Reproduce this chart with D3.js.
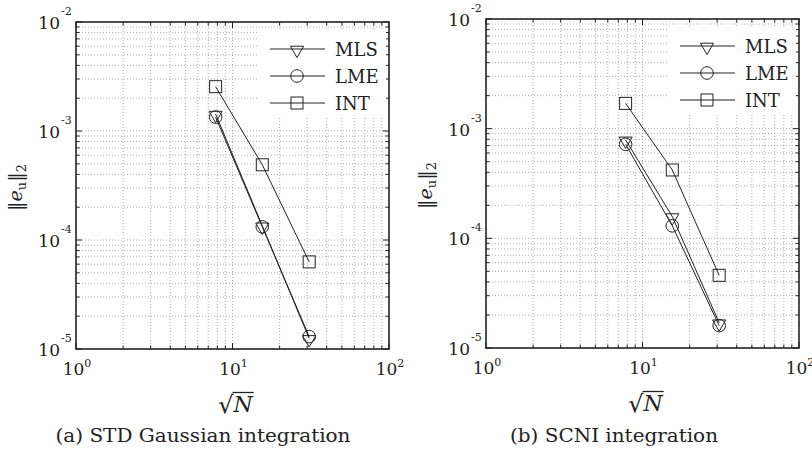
<!DOCTYPE html>
<html>
<head>
<meta charset="utf-8">
<script src="https://cdn.jsdelivr.net/npm/d3@7"></script>
<style>
  body { margin: 0; background: #fff; }
</style>
</head>
<body>
<svg id="chart" width="812" height="451"></svg>
<script>
// sqrt(N) for the three refinements
const sqrtN = [7.8, 15.5, 30.9];

// (a) STD Gaussian integration
const stdMLS = [1.43e-3, 1.35e-4, 1.25e-5];
const stdLME = [1.34e-3, 1.32e-4, 1.30e-5];
const stdINT = [2.55e-3, 4.9e-4, 6.3e-5];

// (b) SCNI integration
const scniMLS = [7.9e-4, 1.58e-4, 1.7e-5];
const scniLME = [7.2e-4, 1.30e-4, 1.6e-5];
const scniINT = [1.7e-3, 4.2e-4, 4.6e-5];

const seriesNames = ["MLS", "LME", "INT"];
const xTickExps = [0, 1, 2];
const yTickExps = [-5, -4, -3, -2];
const captions = ["(a) STD Gaussian integration", "(b) SCNI integration"];

const svg = d3.select("#chart");
const ink = "#222";
const serif = "DejaVu Serif";

// marker shapes: down triangle, circle, square
function marker(g, name, x, y) {
    if (name === "MLS") {
        g.append("path")
            .attr("d", d3.symbol(d3.symbolTriangle, 75)())
            .attr("transform", `translate(${x},${y + 1}) rotate(180)`)
            .attr("fill", "none").attr("stroke", ink).attr("stroke-width", 1);
    } else if (name === "LME") {
        g.append("circle")
            .attr("cx", x).attr("cy", y).attr("r", 6.3)
            .attr("fill", "none").attr("stroke", ink).attr("stroke-width", 1);
    } else {
        g.append("rect")
            .attr("x", x - 6).attr("y", y - 6).attr("width", 12).attr("height", 12)
            .attr("fill", "none").attr("stroke", ink).attr("stroke-width", 1);
    }
}

function drawPanel(p) {
    const g = svg.append("g");
    const x = d3.scaleLog().domain([1, 100]).range([p.left, p.right]);
    const y = d3.scaleLog().domain([1e-5, 1e-2]).range([p.bottom, p.top]);

    // minor + major values for grid
    const xGrid = [], yGrid = [];
    for (let e = 0; e < 2; e++) for (let k = 1; k <= 9; k++) xGrid.push(k * Math.pow(10, e));
    xGrid.push(100);
    for (let e = -5; e < -2; e++) for (let k = 1; k <= 9; k++) yGrid.push(k * Math.pow(10, e));
    yGrid.push(1e-2);

    g.append("g").selectAll("line").data(xGrid.slice(1, -1)).enter().append("line")
        .attr("x1", d => x(d)).attr("x2", d => x(d))
        .attr("y1", p.top).attr("y2", p.bottom)
        .attr("stroke", "#999").attr("stroke-width", 0.8).attr("stroke-dasharray", "1,2");
    g.append("g").selectAll("line").data(yGrid.slice(1, -1)).enter().append("line")
        .attr("x1", p.left).attr("x2", p.right)
        .attr("y1", d => y(d)).attr("y2", d => y(d))
        .attr("stroke", "#999").attr("stroke-width", 0.8).attr("stroke-dasharray", "1,2");

    // ticks inside on all four sides
    const isMajor = v => Math.abs(Math.log10(v) - Math.round(Math.log10(v))) < 1e-9;
    xGrid.forEach(v => {
        const len = isMajor(v) ? 6 : 3.5;
        g.append("line").attr("x1", x(v)).attr("x2", x(v)).attr("y1", p.bottom).attr("y2", p.bottom - len)
            .attr("stroke", ink).attr("stroke-width", 1);
        g.append("line").attr("x1", x(v)).attr("x2", x(v)).attr("y1", p.top).attr("y2", p.top + len)
            .attr("stroke", ink).attr("stroke-width", 1);
    });
    yGrid.forEach(v => {
        const len = isMajor(v) ? 6 : 3.5;
        g.append("line").attr("x1", p.left).attr("x2", p.left + len).attr("y1", y(v)).attr("y2", y(v))
            .attr("stroke", ink).attr("stroke-width", 1);
        g.append("line").attr("x1", p.right).attr("x2", p.right - len).attr("y1", y(v)).attr("y2", y(v))
            .attr("stroke", ink).attr("stroke-width", 1);
    });

    // legend background hides grid
    g.append("rect")
        .attr("x", p.right - 132).attr("y", p.top + 7)
        .attr("width", 129).attr("height", 88)
        .attr("fill", "#fff");

    // frame
    g.append("rect")
        .attr("x", p.left).attr("y", p.top)
        .attr("width", p.right - p.left).attr("height", p.bottom - p.top)
        .attr("fill", "none").attr("stroke", ink).attr("stroke-width", 1.6);

    // series lines + markers
    const line = d3.line().x((d, i) => x(sqrtN[i])).y(d => y(d));
    p.series.forEach((vals, si) => {
        g.append("path").datum(vals).attr("d", line)
            .attr("fill", "none").attr("stroke", ink).attr("stroke-width", 1);
        vals.forEach((v, i) => marker(g, seriesNames[si], x(sqrtN[i]), y(v)));
    });

    // legend
    seriesNames.forEach((name, i) => {
        const ly = p.top + 27 + i * 27;
        g.append("line")
            .attr("x1", p.right - 119).attr("x2", p.right - 64)
            .attr("y1", ly).attr("y2", ly)
            .attr("stroke", ink).attr("stroke-width", 1);
        marker(g, name, p.right - 92, ly);
        g.append("text")
            .attr("x", p.right - 54).attr("y", ly + 7)
            .style("font-family", serif).attr("font-size", 18).attr("fill", ink)
            .text(name);
    });

    // y tick labels
    yTickExps.forEach(e => {
        const ty = y(Math.pow(10, e));
        g.append("text")
            .attr("x", p.left - 16).attr("y", ty + 7)
            .attr("text-anchor", "end").style("font-family", serif).attr("font-size", 17).attr("fill", ink)
            .text("10");
        g.append("text")
            .attr("x", p.left - 15).attr("y", ty - 7)
            .style("font-family", serif).attr("font-size", 11).attr("fill", ink)
            .text(String(e));
    });

    // x tick labels
    xTickExps.forEach(e => {
        const t = g.append("text")
            .attr("x", x(Math.pow(10, e)) + 1).attr("y", p.bottom + 26)
            .attr("text-anchor", "middle").style("font-family", serif).attr("fill", ink);
        t.append("tspan").attr("font-size", 17).text("10");
        t.append("tspan").attr("font-size", 11).attr("dy", -8).text(String(e));
    });

    // x axis label: sqrt(N)
    const cx = (p.left + p.right) / 2;
    g.append("text")
        .attr("x", cx + 1).attr("y", p.bottom + 64)
        .attr("text-anchor", "end").style("font-family", serif)
        .attr("font-size", 24).attr("fill", ink)
        .text("√");
    const nText = g.append("text")
        .attr("x", cx + 1).attr("y", p.bottom + 63)
        .style("font-family", serif).attr("font-size", 22).attr("font-style", "italic").attr("fill", ink)
        .text("N");
    const nw = nText.node().getComputedTextLength();
    g.append("line")
        .attr("x1", cx).attr("x2", cx + nw + 2)
        .attr("y1", p.bottom + 43.5).attr("y2", p.bottom + 43.5)
        .attr("stroke", ink).attr("stroke-width", 1.3);

    // y axis label: ||e_u||_2
    const yl = g.append("text")
        .attr("transform", `translate(${p.left - 54},${(p.top + p.bottom) / 2 + 2}) rotate(-90)`)
        .attr("text-anchor", "middle").style("font-family", serif).attr("fill", ink).attr("font-size", 19);
    yl.append("tspan").text("‖");
    yl.append("tspan").attr("font-style", "italic").text("e");
    yl.append("tspan").attr("font-size", 13).attr("dy", 4).text("u");
    yl.append("tspan").attr("dy", -4).text("‖");
    yl.append("tspan").attr("font-size", 13).attr("dy", 4).text("2");

    // caption
    g.append("text")
        .attr("x", p.captionX).attr("y", 442)
        .attr("text-anchor", "middle").style("font-family", serif).attr("font-size", 18).attr("fill", ink)
        .attr("textLength", p.captionW).attr("lengthAdjust", "spacingAndGlyphs")
        .text(p.caption);
}

drawPanel({
    left: 76, right: 389, top: 22, bottom: 349,
    series: [stdMLS, stdLME, stdINT],
    caption: captions[0], captionX: 203, captionW: 295
});
drawPanel({
    left: 486, right: 799, top: 19, bottom: 348,
    series: [scniMLS, scniLME, scniINT],
    caption: captions[1], captionX: 614, captionW: 208
});
</script>
</body>
</html>
